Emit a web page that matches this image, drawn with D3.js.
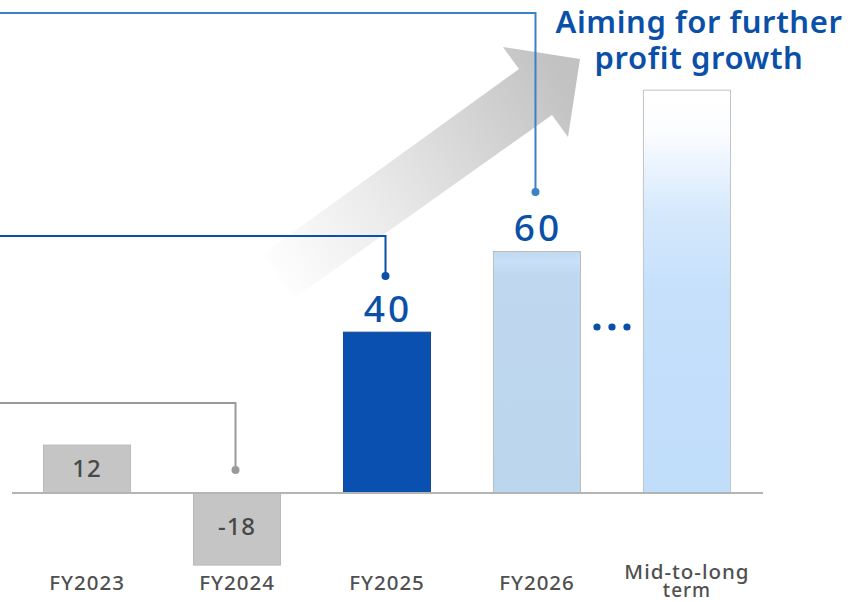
<!DOCTYPE html>
<html>
<head>
<meta charset="utf-8">
<script src="https://cdn.jsdelivr.net/npm/d3@7"></script>
<style>
  html, body { margin: 0; padding: 0; background: #fff; }
  svg { display: block; font-family: "Noto Sans", "Open Sans", sans-serif; }
</style>
</head>
<body>
<svg id="chart" width="855" height="602"></svg>
<script>
// Profit path by fiscal year (billions of yen)
const categories = ["FY2023", "FY2024", "FY2025", "FY2026", "Mid-to-long term"];
const profitValues = [12, -18, 40, 60, 100];
const valueLabels = ["12", "-18", "40", "60", ""];
const categoryLines = [["FY2023"], ["FY2024"], ["FY2025"], ["FY2026"], ["Mid-to-long", "term"]];
const barKinds = ["actual", "actual", "plan", "target", "vision"];
const titleLines = ["Aiming for further", "profit growth"];

const svg = d3.select("#chart");
const defs = svg.append("defs");

const x = d3.scaleBand()
  .domain(categories)
  .range([12, 762])
  .paddingInner(0.413)
  .paddingOuter(0.2067);

const y = d3.scaleLinear()
  .domain([0, 60])
  .range([493, 251]);

// Gradients
const arrowGrad = defs.append("linearGradient")
  .attr("id", "arrowGrad")
  .attr("gradientUnits", "userSpaceOnUse")
  .attr("x1", 270).attr("y1", 280).attr("x2", 570).attr("y2", 90);
arrowGrad.append("stop").attr("offset", 0).attr("stop-color", "#ffffff");
arrowGrad.append("stop").attr("offset", 0.35).attr("stop-color", "#ececec");
arrowGrad.append("stop").attr("offset", 1).attr("stop-color", "#c2c2c2");

const visionGrad = defs.append("linearGradient")
  .attr("id", "visionGrad")
  .attr("x1", 0).attr("y1", 0).attr("x2", 0).attr("y2", 1);
visionGrad.append("stop").attr("offset", 0).attr("stop-color", "#ffffff");
visionGrad.append("stop").attr("offset", 0.1).attr("stop-color", "#fcfdff");
visionGrad.append("stop").attr("offset", 0.3).attr("stop-color", "#d6e9fc");
visionGrad.append("stop").attr("offset", 0.5).attr("stop-color", "#c6e0fb");
visionGrad.append("stop").attr("offset", 1).attr("stop-color", "#c0ddfa");

const targetGrad = defs.append("linearGradient")
  .attr("id", "targetGrad")
  .attr("x1", 0).attr("y1", 0).attr("x2", 0).attr("y2", 1);
targetGrad.append("stop").attr("offset", 0).attr("stop-color", "#c2d9ef");
targetGrad.append("stop").attr("offset", 0.04).attr("stop-color", "#c8e0f8");
targetGrad.append("stop").attr("offset", 0.1).attr("stop-color", "#bfd8f0");
targetGrad.append("stop").attr("offset", 1).attr("stop-color", "#bcd6ee");

// Growth arrow in the background
const arrowPts = [[263, 254], [519, 69], [503, 47], [580, 59], [568, 137], [552, 115], [293, 299]];
svg.append("path")
  .attr("d", d3.line()(arrowPts) + "Z")
  .attr("fill", "url(#arrowGrad)");

const styles = {
  actual: { fill: "#c5c5c5", stroke: "#bababa" },
  plan:   { fill: "#0a50b0", stroke: "#1d4890" },
  target: { fill: "url(#targetGrad)", stroke: "#bcbcbc" },
  vision: { fill: "url(#visionGrad)", stroke: "#c4c4c4" }
};

const data = categories.map((c, i) => ({
  cat: c, value: profitValues[i], label: valueLabels[i],
  kind: barKinds[i], lines: categoryLines[i]
}));

// Bars
svg.append("g").selectAll("rect")
  .data(data)
  .join("rect")
  .attr("x", d => x(d.cat) + 0.5)
  .attr("width", x.bandwidth() - 1)
  .attr("y", d => Math.min(y(d.value), y(0)) + 0.5)
  .attr("height", d => Math.abs(y(d.value) - y(0)) - 1)
  .attr("fill", d => styles[d.kind].fill)
  .attr("stroke", d => styles[d.kind].stroke)
  .attr("stroke-width", 1);

// Baseline
svg.append("line")
  .attr("x1", x.range()[0]).attr("x2", x.range()[1] + 1)
  .attr("y1", y(0)).attr("y2", y(0))
  .attr("stroke", "#b4b4b4").attr("stroke-width", 2);

// Value labels inside the gray bars
svg.append("g").selectAll("text")
  .data(data.filter(d => d.kind === "actual"))
  .join("text")
  .attr("x", d => x(d.cat) + x.bandwidth() / 2)
  .attr("y", d => d.value >= 0 ? (y(d.value) + y(0)) / 2 + 2 : y(0) + 36)
  .attr("text-anchor", "middle")
  .attr("dominant-baseline", "middle")
  .attr("font-size", 24)
  .attr("font-weight", 500)
  .attr("letter-spacing", 1)
  .attr("fill", "#484848")
  .text(d => d.label);

// Value labels above the blue bars
svg.append("g").selectAll("text")
  .data(data.filter(d => d.kind === "plan" || d.kind === "target"))
  .join("text")
  .attr("x", d => x(d.cat) + x.bandwidth() / 2 + 1)
  .attr("y", d => y(d.value) - 10)
  .attr("text-anchor", "middle")
  .attr("font-size", 37)
  .attr("font-weight", 500)
  .attr("letter-spacing", 3)
  .attr("fill", "#0a4fa8")
  .text(d => d.label);

// Leader lines from the left edge down to each bar
const leaders = [
  { cat: "FY2024", lineY: 403, dotY: 470, color: "#9a9a9a" },
  { cat: "FY2025", lineY: 236, dotY: 276, color: "#0a4fa8" },
  { cat: "FY2026", lineY: 13, dotY: 192, color: "#3a82c8" }
];
leaders.forEach(l => {
  const cx = x(l.cat) + x.bandwidth() / 2 - 1.5;
  svg.append("path")
    .attr("d", d3.line()([[0, l.lineY], [cx, l.lineY], [cx, l.dotY]]))
    .attr("fill", "none")
    .attr("stroke", l.color)
    .attr("stroke-width", 2);
  svg.append("circle")
    .attr("cx", cx).attr("cy", l.dotY).attr("r", 4)
    .attr("fill", l.color);
});

// Ellipsis between FY2026 and the long-term bar
const gapX = (x("FY2026") + x.bandwidth() + x("Mid-to-long term")) / 2;
svg.append("g").selectAll("circle")
  .data([-15, 0, 15])
  .join("circle")
  .attr("cx", d => gapX + d)
  .attr("cy", 327)
  .attr("r", 3.6)
  .attr("fill", "#0a4fa8");

// Category labels, one text element per line
const catLabels = data.flatMap(d => d.lines.map((t, i) => ({
  t, cx: x(d.cat) + x.bandwidth() / 2,
  baseY: d.lines.length > 1 ? 579 + i * 18 : 590,
  size: d.lines.length > 1 && i > 0 ? 19 : 20.5
})));
svg.append("g").selectAll("text")
  .data(catLabels)
  .join("text")
  .attr("x", d => d.cx)
  .attr("y", d => d.baseY)
  .attr("text-anchor", "middle")
  .attr("font-size", d => d.size)
  .attr("font-weight", 500)
  .attr("letter-spacing", 1)
  .attr("fill", "#505050")
  .text(d => d.t);

// Headline
svg.append("g").selectAll("text")
  .data(titleLines)
  .join("text")
  .attr("x", 699)
  .attr("y", (d, i) => 33 + i * 36)
  .attr("text-anchor", "middle")
  .attr("font-size", 31)
  .attr("font-weight", 600)
  .attr("letter-spacing", 0.6)
  .attr("fill", "#0a4fa8")
  .text(d => d);
</script>
</body>
</html>
